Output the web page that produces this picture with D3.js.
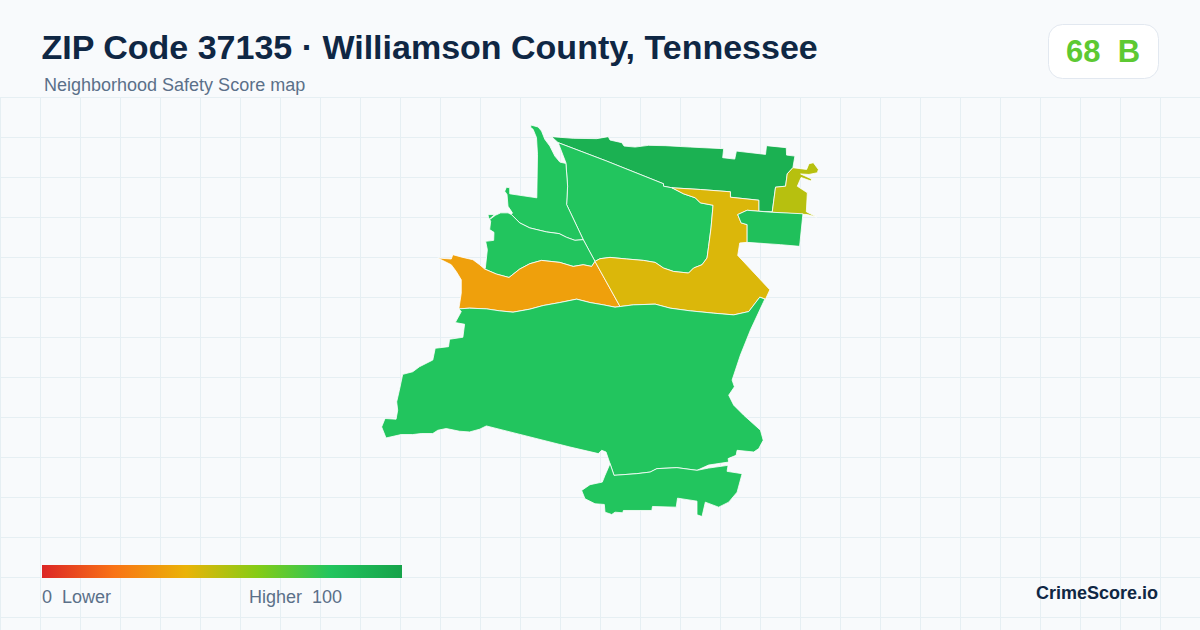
<!DOCTYPE html>
<html>
<head>
<meta charset="utf-8">
<script src="https://cdn.jsdelivr.net/npm/d3@7"></script>
<style>
html,body{margin:0;padding:0;background:#f8fafc;}
svg{display:block;}
text{font-family:"Liberation Sans",Arial,sans-serif;white-space:pre;}
</style>
</head>
<body>
<svg id="chart" width="1200" height="630"></svg>
<script>
// Colour ramp
const rampStops = [0, 20, 40, 60, 80, 100];
const rampColors = ["#dc2626", "#f97316", "#eab308", "#84cc16", "#22c55e", "#16a34a"];

// Labels
const titleText = "ZIP Code 37135 · Williamson County, Tennessee";
const subtitleText = "Neighborhood Safety Score map";
const overallScore = 68;
const overallGrade = "B";
const legendLow = "0  Lower";
const legendHigh = "Higher  100";
const brandText = "CrimeScore.io";

const areaIds = ["north", "central", "northwest", "west", "westCorner", "orange", "gold", "northeast", "eastBlock", "south", "southStrip"];
const areaScores = [92, 80, 80, 80, 80, 34, 43, 50, 83, 80, 80];

// Traced outlines in map units
const ringNorth = [[171.7,17.3],[193.3,19],[216.7,19.3],[228.3,17.3],[230,20.7],[241.7,23.3],[244,26.7],[255,27.7],[268.3,26],[285,26.3],[310,27.7],[343.3,29.3],[342.3,38.3],[354.3,39.7],[356,31.7],[385,35],[386,26.3],[405.7,28.3],[406,35.7],[414.3,36.7],[412.3,48.3],[406.7,54.3],[405,66.7],[395,67.7],[391.7,92.3],[378.3,91.7],[378.3,80.7],[350,77.7],[350,72.3],[320,70],[291.7,68.3],[283.3,66.7],[283.3,64.3],[226.7,41.7],[178.3,23.3]];
const ringCentral = [[178.3,23.3],[226.7,41.7],[283.3,64.3],[283.3,66.7],[291.7,68.3],[303.3,74.3],[315,78.3],[320,83.3],[332.7,85.7],[330.7,108.3],[328.3,126.7],[326.7,138.3],[321.7,145],[313.3,148.3],[308.3,153.3],[293.3,151.7],[283.3,148.3],[275,142.7],[263.3,140.7],[246.7,139.3],[230,137.7],[220,139],[215,141.7],[203.3,120],[186.7,85],[187.7,66.7],[186,43.3]];
const ringNorthwest = [[151,5.7],[158.3,7.7],[161.7,11.7],[165,20],[170,26.7],[175,36.7],[180,42.7],[186,44],[187.7,66.7],[186.7,85],[203.3,120],[195,120.7],[186.7,117.7],[179.3,114],[166.7,112.3],[150,108.3],[140,103.3],[131.7,95],[132.7,93.3],[128.3,86.7],[127.3,75],[125,71.7],[126.7,67.7],[130,68.3],[130,74.3],[157,78.3],[157.7,35],[156.7,18.3],[153.3,10],[151,8.3]];
const ringWest = [[131.7,95],[140,103.3],[150,108.3],[166.7,112.3],[179.3,114],[186.7,117.7],[195,120.7],[203.3,120],[215,141.7],[211.7,146.7],[203.3,145],[193.3,146.7],[180,142.7],[161.7,140.7],[150,144],[140,149.3],[129.3,157.7],[116.7,154.3],[105,149.3],[105.7,148.3],[107.7,130],[106,121.7],[114,120.7],[114.3,112.7],[110,110],[111,101.7],[110,100],[115.7,95.7],[121,93.3],[128.3,93.3]];
const ringWestCorner = [[108.3,95],[115,95],[110,99.3],[109,98.3]];
const ringOrange = [[58.3,138.3],[71.7,139.3],[73.3,135],[83.3,137.7],[93.3,140],[100,145],[105,149.3],[116.7,154.3],[129.3,157.7],[140,149.3],[150,144],[161.7,140.7],[180,142.7],[193.3,146.7],[203.3,145],[211.7,146.7],[215,141.7],[240,186.7],[235,187.3],[223.3,185],[210,182.7],[196.7,179.3],[180,182.7],[163.3,185.7],[150,189.3],[133.3,192.3],[120,191],[106.7,189],[90,188.3],[79.3,189],[81.7,173.3],[81.7,160],[76.7,151.7],[71.7,145]];
const ringGold = [[215,141.7],[220,139],[230,137.7],[246.7,139.3],[263.3,140.7],[275,142.7],[283.3,148.3],[293.3,151.7],[308.3,153.3],[313.3,148.3],[321.7,145],[326.7,138.3],[328.3,126.7],[330.7,108.3],[332.7,85.7],[320,83.3],[315,78.3],[303.3,74.3],[291.7,68.3],[320,70],[350,72.3],[350,77.7],[378.3,80.7],[378.3,91.7],[366.7,90.7],[357.3,95],[360.7,103.3],[366.7,105],[366.7,122.7],[359.3,123.3],[357.3,135.7],[389.3,170],[385,179.3],[379.3,177.3],[368.3,191.7],[353.3,195],[333.3,193.3],[310,191],[290,188.3],[275,184.3],[253.3,185],[240,186.7]];
const ringNortheast = [[412.3,48.3],[426,50],[428.3,44.3],[432.7,43.3],[437.7,50],[436.7,53.3],[428.3,55],[420,54.5],[431,59.5],[430.2,61.5],[420.5,58],[416.7,66.7],[426.7,73.3],[425.7,92.2],[436,97.5],[426.7,95],[391.7,92.7],[395,67.7],[405,66.7],[406.7,54.3]];
const ringEastBlock = [[357.3,95],[366.7,90.7],[378.3,91.7],[391.7,92.7],[422.3,94.2],[419,126.7],[400,125],[366.7,122.7],[366.7,105],[360.7,103.3]];
const ringSouth = [[79.3,189],[90,188.3],[106.7,189],[120,191],[133.3,192.3],[150,189.3],[163.3,185.7],[180,182.7],[196.7,179.3],[210,182.7],[223.3,185],[235,187.3],[240,186.7],[253.3,185],[275,184.3],[290,188.3],[310,191],[333.3,193.3],[353.3,195],[368.3,191.7],[379.3,177.3],[384.3,179.3],[370,210],[360,235],[351.7,260],[354,266.7],[348.3,275],[353.3,285],[363.3,295],[380,310],[382.7,320],[378.3,328.3],[373.3,331.7],[356.7,330],[355.7,335],[347.7,338.3],[348.3,341.7],[328.3,344.7],[316.7,350],[296.7,347.3],[276.7,348.3],[270,351.7],[256.7,353.3],[234,355],[230,343.3],[226,331.7],[221.7,330],[218.3,333.3],[190,326.7],[106.7,305.7],[100,309],[90,311.7],[80,311],[66.7,308.3],[58.3,310],[53.3,313.3],[41.7,313.3],[33.3,314.3],[21.7,314.3],[6.7,317.7],[2.3,306.7],[5.7,298.3],[16.7,299],[18.3,290],[17.3,281.7],[20,270],[23.3,254.3],[33.3,251.7],[40,246.7],[53.3,240],[55.7,228.3],[69,226.7],[70,219.3],[83.3,217.3],[85,204.3],[75.7,202.7],[81.7,191.7]];
const ringSouthStrip = [[234,355],[256.7,353.3],[270,351.7],[276.7,348.3],[296.7,347.3],[316.7,350],[328.3,347.7],[347.7,345],[346.7,351],[361.7,353.3],[356.7,371.7],[348.3,381.7],[338.3,386.7],[325,381.7],[321.7,396],[316.7,394.3],[316.7,380.7],[297.3,377.7],[296,386.7],[272.3,386],[271.7,390],[243.3,390],[242.7,392.3],[235,391.7],[231.7,394],[225,391.7],[224.3,384],[215,383.3],[205,378.3],[201.7,370],[210,364.3],[222.3,361.7],[225,355],[230,343.3]];
const areaRings = [ringNorth, ringCentral, ringNorthwest, ringWest, ringWestCorner, ringOrange, ringGold, ringNortheast, ringEastBlock, ringSouth, ringSouthStrip];

const svg = d3.select("#chart");
const W = 1200, H = 630;
const defs = svg.append("defs");

const colorScale = d3.scaleLinear().domain(rampStops).range(rampColors).clamp(true);

// Background
svg.append("rect").attr("width", W).attr("height", H).attr("fill", "#f8fafc");

// Grid
const gridLayer = svg.append("g").attr("stroke", "#e6eff3").attr("stroke-width", 1);
gridLayer.selectAll("line.v").data(d3.range(0, W + 1, 40)).join("line")
  .attr("class", "v").attr("x1", d => d + 0.5).attr("x2", d => d + 0.5).attr("y1", 97).attr("y2", H);
gridLayer.selectAll("line.h").data(d3.range(97, H + 1, 40)).join("line")
  .attr("class", "h").attr("x1", 0).attr("x2", W).attr("y1", d => d + 0.5).attr("y2", d => d + 0.5);

// Map
const features = areaRings.map((ring, i) => ({
  type: "Feature",
  properties: { id: areaIds[i], score: areaScores[i] },
  geometry: { type: "Polygon", coordinates: [ring.concat([ring[0]])] }
}));
const collection = { type: "FeatureCollection", features };
const projection = d3.geoIdentity().fitExtent([[381.5, 125], [818.5, 516.5]], collection);
const path = d3.geoPath(projection);
svg.append("g").selectAll("path").data(features).join("path")
  .attr("d", path)
  .attr("fill", d => colorScale(d.properties.score))
  .attr("stroke", "#ffffff")
  .attr("stroke-width", 0.8)
  .attr("stroke-linejoin", "round");

// Header
svg.append("text").attr("x", 41.5).attr("y", 59).attr("font-size", 34).attr("font-weight", 700)
  .attr("fill", "#0f2744").text(titleText);
svg.append("text").attr("x", 44).attr("y", 91).attr("font-size", 18)
  .attr("fill", "#5b7089").text(subtitleText);

// Score badge
svg.append("rect").attr("x", 1048.5).attr("y", 24.5).attr("width", 110).attr("height", 54).attr("rx", 14)
  .attr("fill", "#ffffff").attr("stroke", "#e2e8f0").attr("stroke-width", 1);
svg.append("text").attr("x", 1103).attr("y", 62).attr("font-size", 31).attr("font-weight", 700)
  .attr("text-anchor", "middle").attr("fill", colorScale(overallScore))
  .text(overallScore + "  " + overallGrade);

// Legend
const legendScale = d3.scaleLinear().domain([0, 100]).range([42, 402]);
const gradient = defs.append("linearGradient").attr("id", "ramp").attr("x1", "0%").attr("x2", "100%");
gradient.selectAll("stop").data(rampStops).join("stop")
  .attr("offset", d => d + "%").attr("stop-color", d => colorScale(d));
svg.append("rect").attr("x", legendScale(0)).attr("y", 565)
  .attr("width", legendScale(100) - legendScale(0)).attr("height", 13).attr("fill", "url(#ramp)");
svg.append("text").attr("x", 42).attr("y", 603).attr("font-size", 18).attr("fill", "#5b7089").text(legendLow);
svg.append("text").attr("x", 342).attr("y", 603).attr("font-size", 18).attr("text-anchor", "end")
  .attr("fill", "#5b7089").text(legendHigh);

// Brand
svg.append("text").attr("x", 1158).attr("y", 599).attr("font-size", 18).attr("font-weight", 700)
  .attr("text-anchor", "end").attr("fill", "#0f2744").text(brandText);
</script>
</body>
</html>
